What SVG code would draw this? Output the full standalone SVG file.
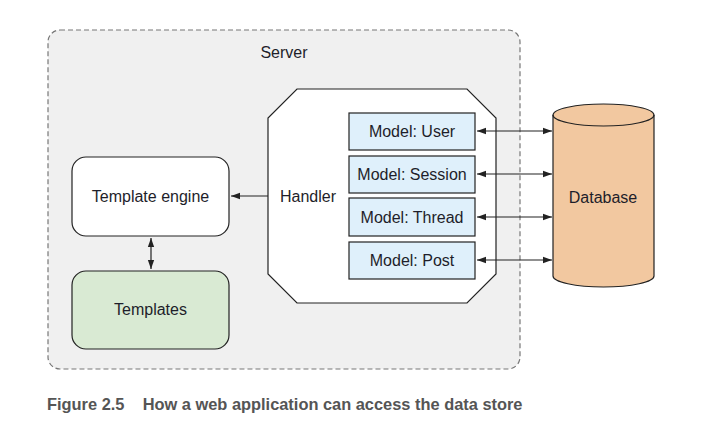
<svg xmlns="http://www.w3.org/2000/svg" width="720" height="435" viewBox="0 0 720 435">
<defs>
<style>
.t{font-family:"Liberation Sans",Arial,sans-serif;font-size:16px;fill:#1e1e2a;text-anchor:middle;dominant-baseline:central}
.ln{stroke:#222;stroke-width:1.2;fill:none}
.box{stroke:#222;stroke-width:1.2}
</style>
<marker id="ah" viewBox="0 0 10 10" refX="10" refY="5" markerWidth="9" markerHeight="9" markerUnits="userSpaceOnUse" orient="auto-start-reverse">
<path d="M0,1.5 L10,5 L0,8.5 Z" fill="#222"/>
</marker>
</defs>
<rect width="720" height="435" fill="#fff"/>
<g id="server">
<rect x="48" y="30" width="472" height="339" rx="12" fill="#f0f0f0" stroke="#777" stroke-width="1.2" stroke-dasharray="5,3"/>
<text class="t" x="284" y="52">Server</text>
</g>
<g id="handler">
<path class="box" fill="#fff" d="M297,89 L467,89 L496,118 L496,274 L467,303 L297,303 L268,274 L268,118 Z"/>
<text class="t" x="308" y="196">Handler</text>
</g>
<g id="model-user">
<rect class="box" x="349" y="113" width="126" height="37" fill="#dff0fb"/>
<text class="t" x="412" y="131.5">Model: User</text>
</g>
<g id="model-session">
<rect class="box" x="349" y="156" width="126" height="37" fill="#dff0fb"/>
<text class="t" x="412" y="174.5">Model: Session</text>
</g>
<g id="model-thread">
<rect class="box" x="349" y="198" width="126" height="38" fill="#dff0fb"/>
<text class="t" x="412" y="217">Model: Thread</text>
</g>
<g id="model-post">
<rect class="box" x="349" y="242" width="126" height="37" fill="#dff0fb"/>
<text class="t" x="412" y="260.5">Model: Post</text>
</g>
<g id="template-engine">
<rect class="box" x="72" y="157" width="157" height="79" rx="14" fill="#fff"/>
<text class="t" x="150.5" y="196">Template engine</text>
</g>
<g id="templates">
<rect class="box" x="72" y="271" width="157" height="78" rx="14" fill="#d9ead3"/>
<text class="t" x="150.5" y="309">Templates</text>
</g>
<g id="database">
<path class="box" fill="#f2c8a0" d="M553,115 L553,276 A50.5,11 0 0 0 654,276 L654,115 A50.5,11 0 0 0 553,115 Z"/>
<path class="box" fill="none" d="M553,115 A50.5,11 0 0 0 654,115"/>
<text class="t" x="603" y="197">Database</text>
</g>
<g id="connectors">
<line class="ln" x1="268" y1="196" x2="231" y2="196" marker-end="url(#ah)"/>
<line class="ln" x1="151" y1="238" x2="151" y2="269" marker-start="url(#ah)" marker-end="url(#ah)"/>
<line class="ln" x1="477" y1="131" x2="552" y2="131" marker-start="url(#ah)" marker-end="url(#ah)"/>
<line class="ln" x1="477" y1="174" x2="552" y2="174" marker-start="url(#ah)" marker-end="url(#ah)"/>
<line class="ln" x1="477" y1="217" x2="552" y2="217" marker-start="url(#ah)" marker-end="url(#ah)"/>
<line class="ln" x1="477" y1="260" x2="552" y2="260" marker-start="url(#ah)" marker-end="url(#ah)"/>
</g>
<text x="47" y="410" font-family="'Liberation Sans',Arial,sans-serif" font-size="16.4" font-weight="bold" fill="#555" xml:space="preserve">Figure 2.5    How a web application can access the data store</text>
</svg>
